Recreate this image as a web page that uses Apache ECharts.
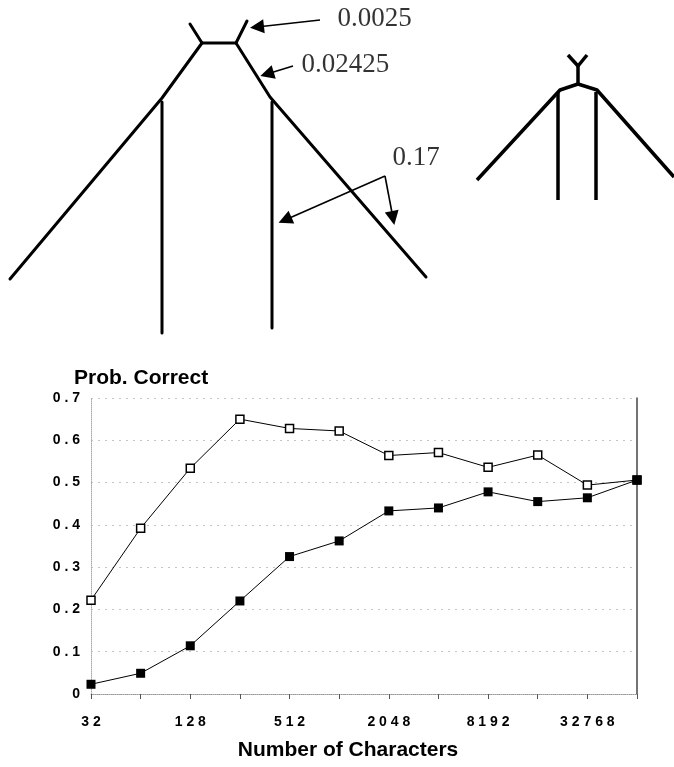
<!DOCTYPE html>
<html>
<head>
<meta charset="utf-8">
<script src="https://cdn.jsdelivr.net/npm/echarts@6/dist/echarts.min.js"></script>
<style>
  html, body { margin: 0; padding: 0; background: #fff; }
  #main { width: 674px; height: 767px; }
</style>
</head>
<body>
<div id="main"></div>
<script>
// x categories: number of characters, 2^5 .. 2^16
var charCounts = ['32', '64', '128', '256', '512', '1024', '2048', '4096', '8192', '16384', '32768', '65536']
// open squares
var openVals = [0.222, 0.392, 0.534, 0.650, 0.628, 0.622, 0.564, 0.571, 0.536, 0.565, 0.494, 0.506]
// filled squares
var filledVals = [0.023, 0.049, 0.114, 0.220, 0.325, 0.362, 0.433, 0.440, 0.478, 0.455, 0.464, 0.506]
var yTicks = [0, 0.1, 0.2, 0.3, 0.4, 0.5, 0.6, 0.7]

// tree figure above the chart (figure units, 0..674 x 0..340, y down)
var bigTree = [
  [[190, 24], [202, 43]],
  [[247, 21], [236, 43]],
  [[202, 43], [236, 43]],
  [[202, 43], [162, 98], [10, 279]],
  [[236, 43], [270, 97], [426, 277]],
  [[162, 102], [162, 333]],
  [[272, 102], [272, 328]]
]
var smallTree = [
  [[568, 55], [578, 66]],
  [[587, 55], [578, 66]],
  [[578, 66], [578, 84]],
  [[578, 84], [560, 90], [477, 180]],
  [[578, 84], [597, 90], [674, 177]],
  [[558, 92], [558, 200]],
  [[596, 92], [596, 200]]
]
var arrows = [
  [[320, 20], [257, 27]],
  [[293, 66], [267, 74]],
  [[385, 176], [285, 220]],
  [[385, 176], [393, 218]]
]
var branchLabels = [
  { name: '0.0025', value: [338, 19] },
  { name: '0.02425', value: [302, 65] },
  { name: '0.17', value: [393, 158] }
]

function toLines(list) {
  return list.map(function (c) { return { coords: c } })
}

var chart = echarts.init(document.getElementById('main'))
var boldFont = '"Liberation Sans", Arial, sans-serif'

var option = {
  animation: false,
  backgroundColor: '#fff',
  title: {
    text: 'Prob. Correct',
    left: 69,
    top: 363,
    textStyle: { fontFamily: boldFont, fontWeight: 'bold', fontSize: 21, color: '#000' }
  },
  grid: [
    { left: 91, right: 37, top: 398, height: 296 },
    { left: 0, top: 0, width: 674, height: 340 }
  ],
  xAxis: [
    {
      type: 'category',
      gridIndex: 0,
      data: charCounts,
      boundaryGap: false,
      name: 'Number of Characters',
      nameLocation: 'middle',
      nameGap: 46,
      nameTextStyle: {
        fontFamily: boldFont, fontWeight: 'bold', fontSize: 21, color: '#000',
        padding: [0, 32, 0, 0]
      },
      axisLine: { lineStyle: { color: '#999', type: 'dotted', width: 1 } },
      axisTick: { show: true, interval: 0, length: 5, lineStyle: { color: '#555' } },
      axisLabel: {
        interval: 1,
        margin: 21,
        color: '#000',
        fontFamily: boldFont,
        fontWeight: 'bold',
        fontSize: 14,
        formatter: function (v) { return v.split('').join(' ') }
      },
      splitLine: { show: false }
    },
    { type: 'value', gridIndex: 1, min: 0, max: 674, show: false }
  ],
  yAxis: [
    {
      type: 'value',
      gridIndex: 0,
      min: yTicks[0],
      max: yTicks[yTicks.length - 1],
      interval: 0.1,
      axisLine: { show: true, lineStyle: { color: '#aaa', type: 'dotted' } },
      axisTick: { show: false },
      axisLabel: {
        margin: 11,
        color: '#000',
        fontFamily: boldFont,
        fontWeight: 'bold',
        fontSize: 14,
        formatter: function (v) {
          return v === 0 ? '0' : v.toFixed(1).split('').join(' ')
        }
      },
      splitLine: { lineStyle: { color: '#c4c4c4', type: [2, 5], width: 1 } }
    },
    {
      type: 'value',
      gridIndex: 0,
      position: 'right',
      min: 0,
      max: 0.7,
      interval: 0.7,
      axisLine: { show: true, lineStyle: { color: '#444', width: 1.5 } },
      axisTick: { show: false },
      axisLabel: { show: false },
      splitLine: { show: false }
    },
    { type: 'value', gridIndex: 1, min: 0, max: 340, inverse: true, show: false }
  ],
  series: [
    {
      name: 'open',
      type: 'line',
      xAxisIndex: 0,
      yAxisIndex: 0,
      data: openVals,
      symbol: 'rect',
      symbolSize: 8,
      lineStyle: { color: '#000', width: 1 },
      itemStyle: { color: '#fff', borderColor: '#000', borderWidth: 1.5 }
    },
    {
      name: 'filled',
      type: 'line',
      xAxisIndex: 0,
      yAxisIndex: 0,
      data: filledVals,
      symbol: 'rect',
      symbolSize: 9,
      lineStyle: { color: '#000', width: 1 },
      itemStyle: { color: '#000' }
    },
    {
      type: 'lines',
      coordinateSystem: 'cartesian2d',
      xAxisIndex: 1,
      yAxisIndex: 2,
      polyline: true,
      silent: true,
      lineStyle: { color: '#000', width: 3, opacity: 1, cap: 'round', join: 'round' },
      data: toLines(bigTree)
    },
    {
      type: 'lines',
      coordinateSystem: 'cartesian2d',
      xAxisIndex: 1,
      yAxisIndex: 2,
      polyline: true,
      silent: true,
      lineStyle: { color: '#000', width: 3.5, opacity: 1, cap: 'butt', join: 'round' },
      data: toLines(smallTree)
    },
    {
      type: 'lines',
      coordinateSystem: 'cartesian2d',
      xAxisIndex: 1,
      yAxisIndex: 2,
      silent: true,
      symbol: ['none', 'triangle'],
      symbolSize: [10, 14],
      lineStyle: { color: '#000', width: 1.6, opacity: 1 },
      itemStyle: { color: '#000' },
      data: toLines(arrows)
    },
    {
      type: 'scatter',
      xAxisIndex: 1,
      yAxisIndex: 2,
      symbolSize: 1,
      silent: true,
      itemStyle: { color: 'rgba(0,0,0,0)' },
      label: {
        show: true,
        position: [0, 0],
        align: 'left',
        verticalAlign: 'middle',
        formatter: '{b}',
        fontFamily: '"Liberation Serif", "Times New Roman", serif',
        fontSize: 27,
        color: '#000'
      },
      data: branchLabels
    }
  ]
}

chart.setOption(option)
window.addEventListener('resize', function () {
  chart.resize()
})
</script>
</body>
</html>
